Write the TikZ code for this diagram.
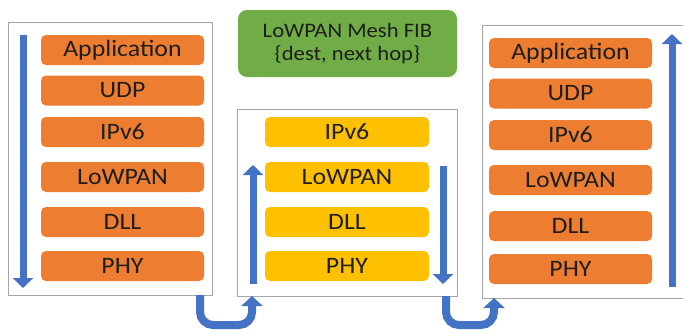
\documentclass[tikz,border=0pt]{standalone}
\usepackage{fontspec}
\setmainfont{Carlito}[FakeStretch=1.1]
\usetikzlibrary{arrows.meta}
\definecolor{layerorange}{HTML}{ED7D31}
\definecolor{layeryellow}{HTML}{FFC000}
\definecolor{fibgreen}{HTML}{70AD47}
\definecolor{flowblue}{HTML}{4472C4}
\definecolor{framegray}{HTML}{A6A6A6}
\definecolor{labelink}{HTML}{1E1E1E}
\tikzset{
  layer/.style={rounded corners=5pt, minimum height=30pt, inner sep=0pt,
    text=labelink, font=\fontsize{23.5}{27}\selectfont},
  olayer/.style={layer, fill=layerorange, minimum width=163pt},
  ylayer/.style={layer, fill=layeryellow, minimum width=164pt},
  frame/.style={draw=framegray, line width=0.9pt, fill=white},
  flow/.style={draw=flowblue, line width=7pt,
    -{Triangle[length=10pt,width=20pt]}},
  hop/.style={draw=flowblue, line width=8pt, rounded corners=13pt,
    -{Triangle[length=10pt,width=21pt]}}
}
\begin{document}
\begin{tikzpicture}[x=1pt,y=-1pt]
\useasboundingbox (0,0) rectangle (683,333);

% host and router frames
\draw[frame] (8,22) rectangle (212,295);
\draw[frame] (237,109) rectangle (457,296);
\draw[frame] (482,25) rectangle (690,298);

% forwarding table
\node[fill=fibgreen, rounded corners=9pt, minimum width=219pt, minimum height=67pt,
  inner sep=0pt, text=labelink, align=center, font=\fontsize{20.6}{23}\selectfont]
  (fib) at (347.5,43.5) {LoWPAN Mesh FIB\\\{dest, next hop\}};

% sending host stack
\node[olayer] (sapp) at (122.5,50)  {Application};
\node[olayer] (sudp) at (122.5,90.5){UDP};
\node[olayer] (sip)  at (122.5,132) {IPv6};
\node[olayer] (slow) at (122.5,177) {LoWPAN};
\node[olayer] (sdll) at (122.5,222) {DLL};
\node[olayer] (sphy) at (122.5,266) {PHY};

% mesh router stack
\node[ylayer] (mip)  at (347,132) {IPv6};
\node[ylayer] (mlow) at (347,177) {LoWPAN};
\node[ylayer] (mdll) at (347,222) {DLL};
\node[ylayer] (mphy) at (347,266) {PHY};

% receiving host stack
\node[olayer] (rapp) at (570.5,53)  {Application};
\node[olayer] (rudp) at (570.5,93.5){UDP};
\node[olayer] (rip)  at (570.5,135) {IPv6};
\node[olayer] (rlow) at (570.5,180) {LoWPAN};
\node[olayer] (rdll) at (570.5,226) {DLL};
\node[olayer] (rphy) at (570.5,269) {PHY};

% flow through the stacks
\coordinate (sdownA) at (23,35);   \coordinate (sdownB) at (23,288);
\coordinate (mupA)   at (253,284); \coordinate (mupB)   at (253,165);
\coordinate (mdownA) at (443,166); \coordinate (mdownB) at (443,284);
\coordinate (rupA)   at (672,287); \coordinate (rupB)   at (672,34);
\draw[flow] (sdownA) -- (sdownB);
\draw[flow] (mupA) -- (mupB);
\draw[flow] (mdownA) -- (mdownB);
\draw[flow] (rupA) -- (rupB);

% radio hops between nodes
\coordinate (hop1a) at (200,295); \coordinate (hop1b) at (252,296);
\coordinate (hop2a) at (446,296); \coordinate (hop2b) at (494,298);
\draw[hop] (hop1a) -- (200,325) -- (252,325) -- (hop1b);
\draw[hop] (hop2a) -- (446,325) -- (494,325) -- (hop2b);
\end{tikzpicture}
\end{document}
